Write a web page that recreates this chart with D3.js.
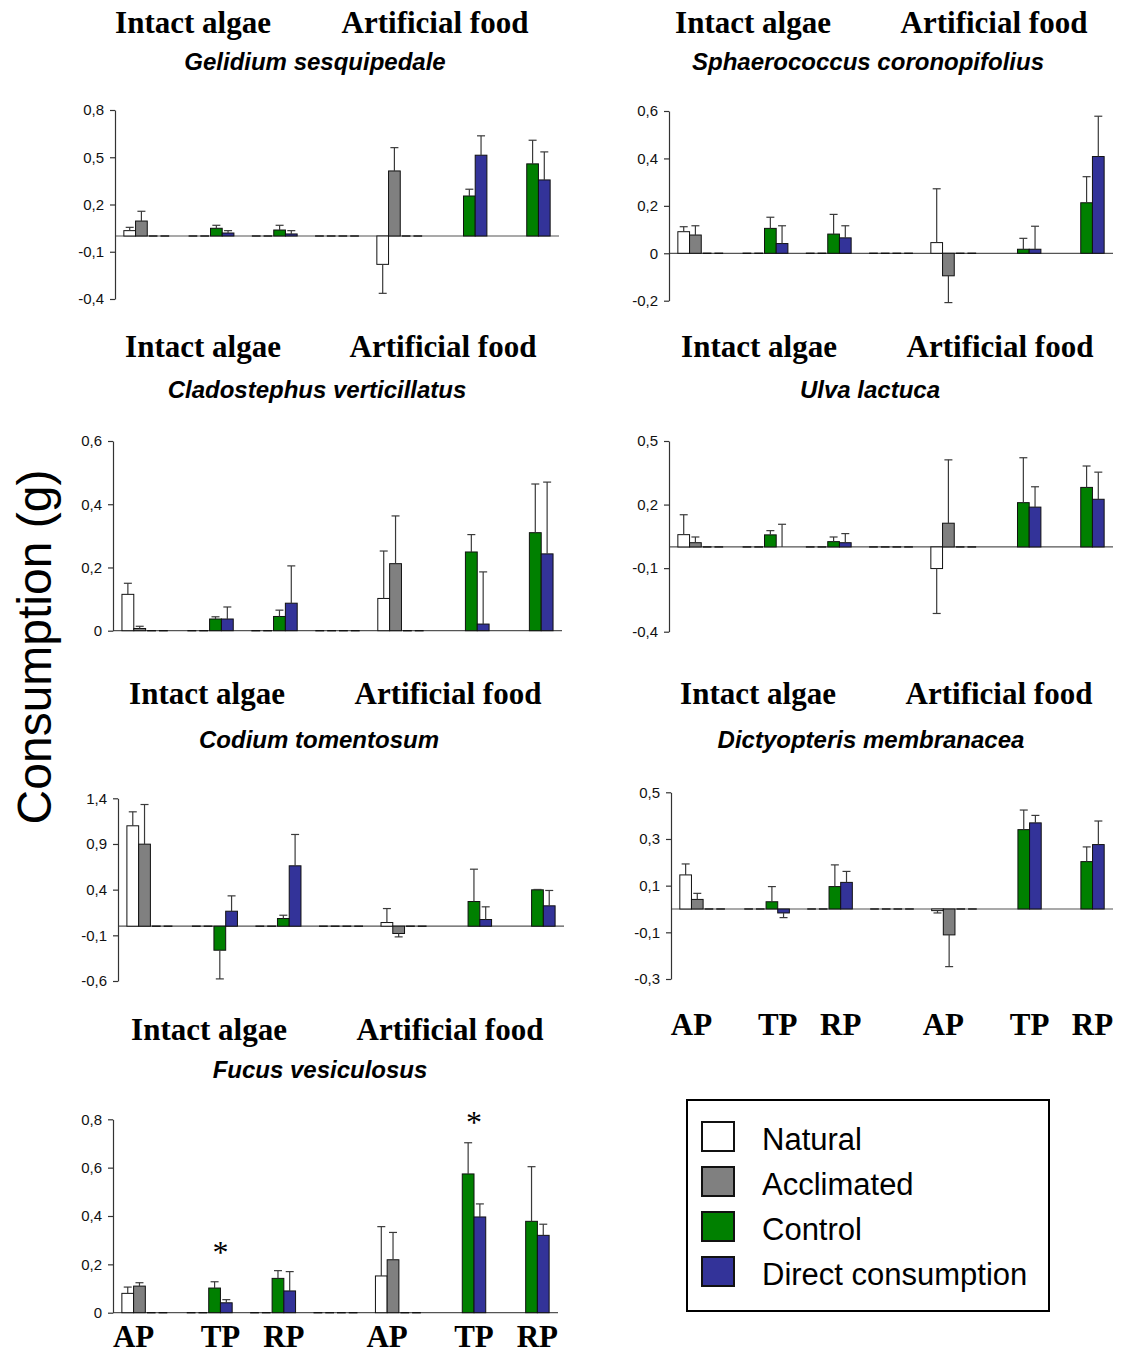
<!DOCTYPE html>
<html>
<head>
<meta charset="utf-8">
<script src="https://cdn.jsdelivr.net/npm/d3@7"></script>
<style>
  body { margin: 0; background: #fff; }
  svg { display: block; }
</style>
</head>
<body>
<script>
// series and groups
var seriesNames = ["Natural", "Acclimated", "Control", "Direct consumption"];
var groupLabels = ["AP", "TP", "RP", "AP", "TP", "RP"];
var groupSlot = [0, 1, 2, 4, 5, 6];            // slot 3 is the empty gap between the two food types
var groupSeries = [[0, 1], [2, 3], [2, 3], [0, 1], [2, 3], [2, 3]];

// means (pairs, in the order of groupSeries) and standard errors
var gelidiumMean = [[0.034, 0.095], [0.049, 0.019], [0.038, 0.013], [-0.180, 0.413], [0.254, 0.513], [0.458, 0.356]];
var gelidiumErr  = [[0.021, 0.062], [0.019, 0.015], [0.030, 0.021], [0.184, 0.148], [0.043, 0.123], [0.150, 0.178]];
var gelidiumTicks = [0.8, 0.5, 0.2, -0.1, -0.4];

var sphaeroMean = [[0.091, 0.077], [0.105, 0.041], [0.081, 0.065], [0.045, -0.095], [0.017, 0.017], [0.213, 0.408]];
var sphaeroErr  = [[0.021, 0.039], [0.047, 0.075], [0.083, 0.051], [0.227, 0.113], [0.046, 0.097], [0.110, 0.170]];
var sphaeroTicks = [0.6, 0.4, 0.2, 0, -0.2];

var cladoMean = [[0.115, 0.007], [0.037, 0.037], [0.045, 0.087], [0.102, 0.212], [0.249, 0.021], [0.310, 0.243]];
var cladoErr  = [[0.035, 0.007], [0.007, 0.038], [0.020, 0.118], [0.150, 0.151], [0.055, 0.165], [0.154, 0.227]];
var cladoTicks = [0.6, 0.4, 0.2, 0];

var ulvaMean = [[0.058, 0.020], [0.057, 0], [0.025, 0.020], [-0.102, 0.112], [0.209, 0.188], [0.281, 0.225]];
var ulvaErr  = [[0.094, 0.027], [0.020, 0.107], [0.022, 0.043], [0.212, 0.299], [0.212, 0.096], [0.101, 0.128]];
var ulvaTicks = [0.5, 0.2, -0.1, -0.4];

var codiumMean = [[1.099, 0.898], [-0.263, 0.164], [0.084, 0.661], [0.040, -0.080], [0.270, 0.073], [0.398, 0.223]];
var codiumErr  = [[0.153, 0.434], [0.314, 0.168], [0.036, 0.343], [0.153, 0.037], [0.354, 0.139], [0.004, 0.168]];
var codiumTicks = [1.4, 0.9, 0.4, -0.1, -0.6];

var dictyoMean = [[0.146, 0.041], [0.031, -0.017], [0.096, 0.114], [-0.007, -0.111], [0.340, 0.369], [0.203, 0.276]];
var dictyoErr  = [[0.047, 0.026], [0.065, 0.020], [0.093, 0.047], [0.010, 0.136], [0.084, 0.032], [0.063, 0.101]];
var dictyoTicks = [0.5, 0.3, 0.1, -0.1, -0.3];

var fucusMean = [[0.080, 0.110], [0.102, 0.041], [0.142, 0.090], [0.152, 0.219], [0.574, 0.396], [0.378, 0.320]];
var fucusErr  = [[0.026, 0.014], [0.026, 0.013], [0.032, 0.080], [0.204, 0.113], [0.129, 0.054], [0.226, 0.046]];
var fucusTicks = [0.8, 0.6, 0.4, 0.2, 0];
var fucusStars = [{group: 1, value: 0.28}, {group: 4, value: 0.815}];

var seriesColors = ["#ffffff", "#808080", "#008000", "#333399"];

// where each panel sits on the page
var panels = [
  {name: "Gelidium sesquipedale", mean: gelidiumMean, err: gelidiumErr, ticks: gelidiumTicks,
   x0: 115, x1: 559, yTop: 110, yBot: 299, titleY: 33, speciesY: 70, ia: 193, af: 435, sp: 315},
  {name: "Sphaerococcus coronopifolius", mean: sphaeroMean, err: sphaeroErr, ticks: sphaeroTicks,
   x0: 669, x1: 1113, yTop: 111, yBot: 300.7, titleY: 33, speciesY: 70, ia: 753, af: 994, sp: 868},
  {name: "Cladostephus verticillatus", mean: cladoMean, err: cladoErr, ticks: cladoTicks,
   x0: 113, x1: 562, yTop: 441, yBot: 630.7, titleY: 357, speciesY: 398, ia: 203, af: 443, sp: 317},
  {name: "Ulva lactuca", mean: ulvaMean, err: ulvaErr, ticks: ulvaTicks,
   x0: 669, x1: 1113, yTop: 441, yBot: 631.7, titleY: 357, speciesY: 398, ia: 759, af: 1000, sp: 870},
  {name: "Codium tomentosum", mean: codiumMean, err: codiumErr, ticks: codiumTicks,
   x0: 118, x1: 564, yTop: 798.3, yBot: 981, titleY: 704, speciesY: 748, ia: 207, af: 448, sp: 319},
  {name: "Dictyopteris membranacea", mean: dictyoMean, err: dictyoErr, ticks: dictyoTicks,
   x0: 671, x1: 1113, yTop: 792.3, yBot: 979, titleY: 704, speciesY: 748, ia: 758, af: 999, sp: 871, labelY: 1035},
  {name: "Fucus vesiculosus", mean: fucusMean, err: fucusErr, ticks: fucusTicks, stars: fucusStars,
   x0: 113, x1: 558, yTop: 1119.3, yBot: 1312.7, titleY: 1040, speciesY: 1078, ia: 209, af: 450, sp: 320, labelY: 1347}
];

var width = 1129, height = 1356;
var sans = "'Liberation Sans', Arial, Helvetica, sans-serif";
var serif = "'Liberation Serif', 'Times New Roman', Times, serif";

var svg = d3.select("body").append("svg")
  .attr("width", width)
  .attr("height", height);

var fmt = d3.format(".1f");
function tickText(v) {
  if (v === 0) return "0";
  return fmt(v).replace("\u2212", "-").replace(".", ",");
}

panels.forEach(function (p) {
  var g = svg.append("g");

  var y = d3.scaleLinear()
    .domain([p.ticks[p.ticks.length - 1], p.ticks[0]])
    .range([p.yBot, p.yTop]);

  var x = d3.scaleBand()
    .domain(d3.range(7))
    .range([p.x0, p.x1])
    .paddingInner(0.26)
    .paddingOuter(0.14);

  var xs = d3.scaleBand()
    .domain(d3.range(4))
    .range([0, x.bandwidth()]);

  // bars as flat records
  var bars = [];
  var empties = [];
  p.mean.forEach(function (pair, gi) {
    var s = groupSeries[gi];
    pair.forEach(function (v, k) {
      bars.push({slot: groupSlot[gi], series: s[k], value: v, err: p.err[gi][k]});
    });
    d3.range(4).forEach(function (si) {
      if (s.indexOf(si) < 0 && groupSlot[gi] <= 4) empties.push({slot: groupSlot[gi], series: si});
    });
  });
  d3.range(4).forEach(function (si) { empties.push({slot: 3, series: si}); });

  // zero line
  g.append("line")
    .attr("x1", p.x0).attr("x2", p.x1)
    .attr("y1", y(0)).attr("y2", y(0))
    .attr("stroke", "#555")
    .attr("stroke-width", 1.2);

  // zero-height bars show as short dark dashes on the zero line
  g.selectAll("line.empty")
    .data(empties)
    .enter()
    .append("line")
    .attr("class", "empty")
    .attr("x1", function (d) { return x(d.slot) + xs(d.series) + 1.5; })
    .attr("x2", function (d) { return x(d.slot) + xs(d.series) + xs.bandwidth() - 1.5; })
    .attr("y1", y(0)).attr("y2", y(0))
    .attr("stroke", "#111")
    .attr("stroke-width", 1.4);

  g.selectAll("rect.bar")
    .data(bars)
    .enter()
    .append("rect")
    .attr("class", "bar")
    .attr("x", function (d) { return x(d.slot) + xs(d.series); })
    .attr("y", function (d) { return y(Math.max(0, d.value)); })
    .attr("width", xs.bandwidth())
    .attr("height", function (d) { return Math.abs(y(d.value) - y(0)); })
    .attr("fill", function (d) { return seriesColors[d.series]; })
    .attr("stroke", "#111")
    .attr("stroke-width", 1);

  // error bars, pointing away from zero
  var eb = g.selectAll("g.err")
    .data(bars)
    .enter()
    .append("g")
    .attr("class", "err")
    .attr("stroke", "#3a3a3a")
    .attr("stroke-width", 1.2);

  function cx(d) { return x(d.slot) + xs(d.series) + xs.bandwidth() / 2; }
  function tip(d) { return y(d.value + (d.value < 0 ? -d.err : d.err)); }

  eb.append("line")
    .attr("x1", cx).attr("x2", cx)
    .attr("y1", function (d) { return y(d.value); })
    .attr("y2", tip);
  eb.append("line")
    .attr("x1", function (d) { return cx(d) - 4; })
    .attr("x2", function (d) { return cx(d) + 4; })
    .attr("y1", tip).attr("y2", tip);

  // y axis
  var axis = g.append("g")
    .attr("transform", "translate(" + p.x0 + ",0)")
    .call(d3.axisLeft(y).tickValues(p.ticks).tickSize(5).tickSizeOuter(0).tickPadding(6).tickFormat(tickText));
  axis.select(".domain").attr("stroke", "#333").attr("stroke-width", 1.2);
  axis.selectAll(".tick line").attr("stroke", "#333").attr("stroke-width", 1.2);
  axis.selectAll(".tick text")
    .attr("font-family", sans)
    .attr("font-size", "15px")
    .attr("fill", "#111");

  // panel titles
  g.append("text")
    .attr("x", p.ia).attr("y", p.titleY)
    .attr("text-anchor", "middle")
    .attr("font-family", serif).attr("font-weight", "bold").attr("font-size", "31px")
    .text("Intact algae");
  g.append("text")
    .attr("x", p.af).attr("y", p.titleY)
    .attr("text-anchor", "middle")
    .attr("font-family", serif).attr("font-weight", "bold").attr("font-size", "31px")
    .text("Artificial food");
  g.append("text")
    .attr("x", p.sp).attr("y", p.speciesY)
    .attr("text-anchor", "middle")
    .attr("font-family", sans).attr("font-weight", "bold").attr("font-style", "italic")
    .attr("font-size", "24px")
    .text(p.name);

  function pairCenter(gi) {
    var s = groupSeries[gi];
    return x(groupSlot[gi]) + xs(s[0]) + xs.bandwidth();
  }

  // AP / TP / RP under the bottom panels
  if (p.labelY) {
    g.selectAll("text.grp")
      .data(groupLabels)
      .enter()
      .append("text")
      .attr("class", "grp")
      .attr("x", function (d, i) { return pairCenter(i); })
      .attr("y", p.labelY)
      .attr("text-anchor", "middle")
      .attr("font-family", serif).attr("font-weight", "bold").attr("font-size", "31px")
      .text(function (d) { return d; });
  }

  if (p.stars) {
    g.selectAll("text.star")
      .data(p.stars)
      .enter()
      .append("text")
      .attr("class", "star")
      .attr("x", function (d) { return pairCenter(d.group); })
      .attr("y", function (d) { return y(d.value); })
      .attr("dy", "0.55em")
      .attr("text-anchor", "middle")
      .attr("font-family", serif).attr("font-size", "32px")
      .text("*");
  }
});

// y title
svg.append("text")
  .attr("transform", "translate(51,647) rotate(-90)")
  .attr("text-anchor", "middle")
  .attr("font-family", sans)
  .attr("font-size", "48px")
  .text("Consumption (g)");

// legend
var legend = svg.append("g").attr("transform", "translate(687,1100)");
legend.append("rect")
  .attr("width", 362).attr("height", 211)
  .attr("fill", "#fff")
  .attr("stroke", "#000")
  .attr("stroke-width", 2);

var items = legend.selectAll("g.item")
  .data(seriesNames)
  .enter()
  .append("g")
  .attr("class", "item")
  .attr("transform", function (d, i) { return "translate(15," + (22 + i * 45) + ")"; });
items.append("rect")
  .attr("width", 32).attr("height", 29)
  .attr("fill", function (d, i) { return seriesColors[i]; })
  .attr("stroke", "#111")
  .attr("stroke-width", 2);
items.append("text")
  .attr("x", 60).attr("y", 28)
  .attr("font-family", sans)
  .attr("font-size", "31px")
  .text(function (d) { return d; });
</script>
</body>
</html>
